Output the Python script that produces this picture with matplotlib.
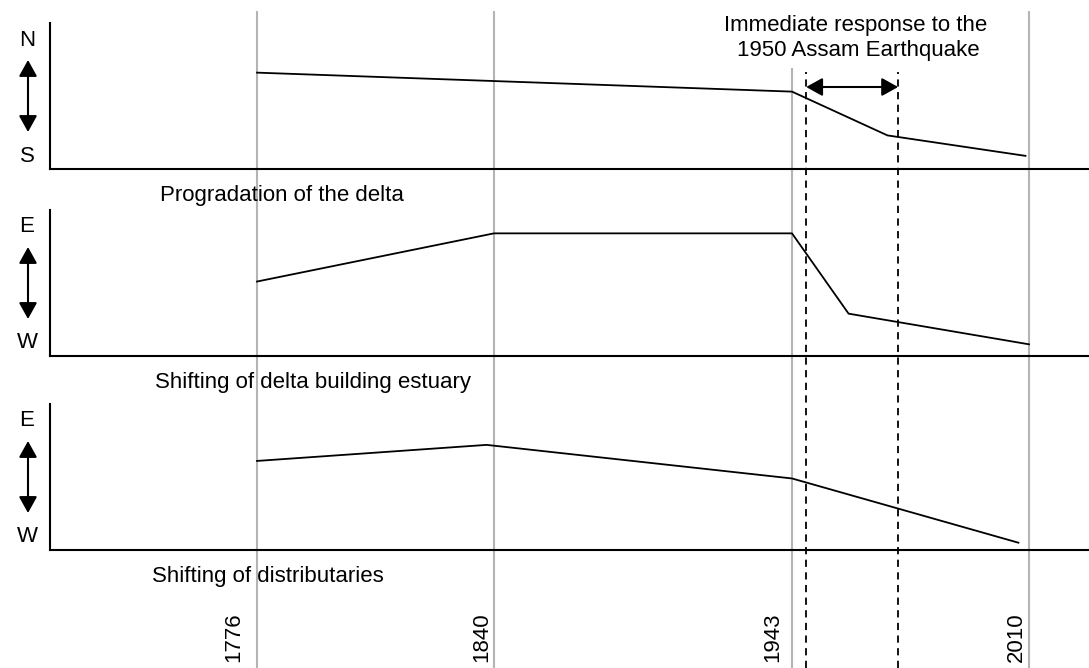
import numpy as np
import matplotlib
matplotlib.use("Agg")
import matplotlib.pyplot as plt
from matplotlib.transforms import offset_copy

plt.rcParams["font.family"] = ["Liberation Sans", "DejaVu Sans"]
plt.rcParams["font.size"] = 16

# schematic timeline (years)
year_ticks = [1776, 1840, 1943, 2010]
response_years = [1947, 1973]   # dashed window after the 1950 quake

# relative position of the river (0 = S/W, 1 = N/E)
prog_years = [1776, 1943, 1970, 2009]
prog_vals = [0.66, 0.53, 0.23, 0.09]

estuary_years = [1776, 1840, 1943, 1959, 2010]
estuary_vals = [0.51, 0.84, 0.84, 0.29, 0.08]

distrib_years = [1776, 1838, 1943, 2007]
distrib_vals = [0.61, 0.72, 0.49, 0.05]

panel_titles = ["Progradation of the delta",
                "Shifting of delta building estuary",
                "Shifting of distributaries"]
panel_dirs = [("N", "S"), ("E", "W"), ("E", "W")]

# ---- layout (pixels of a 1089x668 canvas) ----
W, H = 1089, 668
def fx(px):
    return px / W
def fy(py):
    return 1 - py / H

panel_px = [(23, 169), (210, 356), (404, 550)]   # (top, bottom)
left_px = 50

# the time axis is not linear in the original drawing
anchor_years = [1700, 1776, 1840, 1943, 2010, 2100]
anchor_pos = [-24.2, 257, 494, 792, 1029, 1347.6]
def forward(v):
    return np.interp(v, anchor_years, anchor_pos)
def inverse(p):
    return np.interp(p, anchor_pos, anchor_years)
xlim = (inverse(left_px), inverse(W))

arrow_style = "<|-|>,head_length=0.45,head_width=0.25"

fig = plt.figure(figsize=(W / 100, H / 100), dpi=100)

# background axes for the year lines
bg = fig.add_axes([fx(left_px), 0, 1 - fx(left_px), 1], zorder=0)
bg.set_xscale("function", functions=(forward, inverse))
bg.set_xlim(*xlim)
bg.set_ylim(0, 1)
bg.axis("off")

line_tops = [11, 11, 68, 11]
for yr, top in zip(year_ticks, line_tops):
    bg.vlines(yr, 0, fy(top), color="#b4b4b4", lw=1.5)
bg.vlines(response_years, 0, fy(72), color="black", lw=1.3,
          linestyles=(0, (4, 3)))
bg.annotate("", xy=(response_years[1], fy(87)), xytext=(response_years[0], fy(87)),
            arrowprops=dict(arrowstyle=arrow_style, color="black", lw=1.5,
                            mutation_scale=22, shrinkA=0, shrinkB=0))

label_shift = [-13, -2, -9, -2]
for yr, dx in zip(year_ticks, label_shift):
    tr = offset_copy(bg.transData, fig=fig, x=dx, y=0, units="dots")
    bg.text(yr, fy(662), str(yr), rotation=90, ha="right", va="bottom",
            transform=tr)

fig.text(fx(856), fy(31.5), "Immediate response to the", ha="center", va="baseline")
fig.text(fx(858), fy(56), "1950 Assam Earthquake", ha="center", va="baseline")

series = [(prog_years, prog_vals), (estuary_years, estuary_vals),
          (distrib_years, distrib_vals)]
title_left = [160, 155, 152]

for (top, bot), (xs, ys), title, (hi, lo), tl in zip(panel_px, series, panel_titles,
                                                      panel_dirs, title_left):
    ax = fig.add_axes([fx(left_px), fy(bot), 1 - fx(left_px), (bot - top) / H], zorder=1)
    ax.set_facecolor("none")
    ax.set_xscale("function", functions=(forward, inverse))
    ax.set_xlim(*xlim)
    ax.set_ylim(0, 1)
    ax.plot(xs, ys, color="black", lw=1.3)
    for s in ["top", "right"]:
        ax.spines[s].set_visible(False)
    for s in ["left", "bottom"]:
        ax.spines[s].set_linewidth(1.5)
    ax.set_xticks([])
    ax.set_yticks([])

    fig.text(fx(27), fy(top + 17), hi, ha="center", va="center")
    fig.text(fx(27), fy(bot - 13), lo, ha="center", va="center")
    fig.patches.append(matplotlib.patches.FancyArrowPatch(
        (fx(28), fy(top + 37)), (fx(28), fy(bot - 37)),
        transform=fig.transFigure, arrowstyle=arrow_style, color="black",
        lw=1.5, mutation_scale=22, shrinkA=0, shrinkB=0))
    fig.text(fx(tl), fy(bot + 32), title, ha="left", va="baseline")

fig.savefig("out.png", dpi=100)
